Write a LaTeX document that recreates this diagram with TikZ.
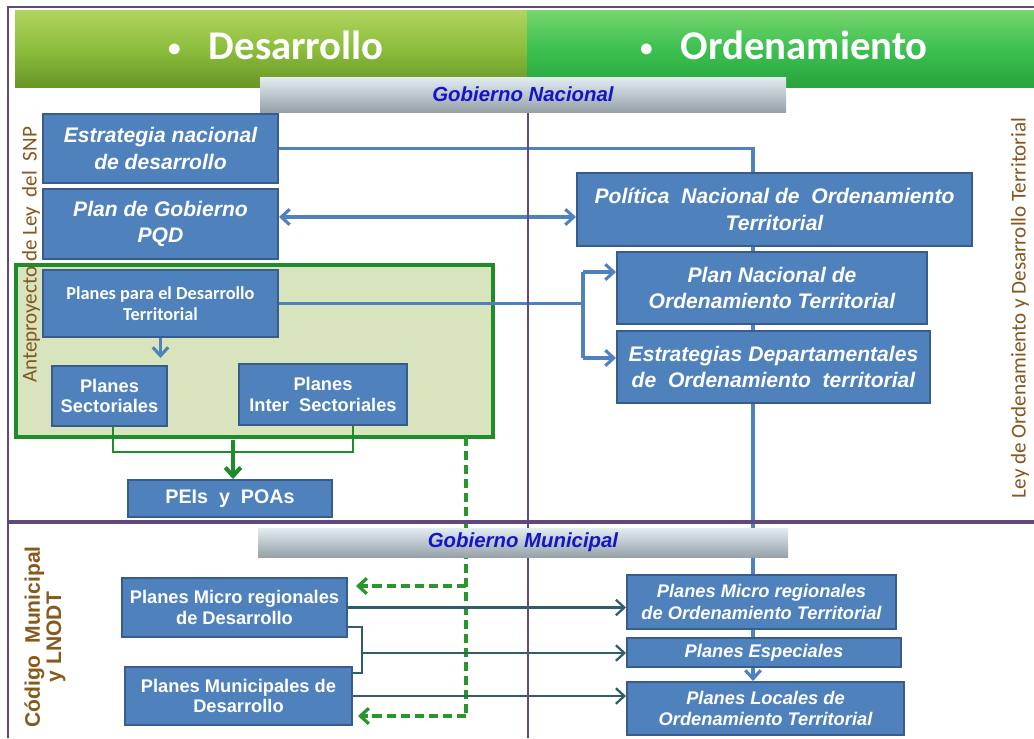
\documentclass[tikz,border=0pt]{standalone}
\usepackage{fontspec}
\setmainfont{Liberation Sans}
\newfontfamily\calibri{Carlito}
\usepackage{tikz}
\usetikzlibrary{calc,arrows.meta}
\newcommand{\fsz}[2]{\fontsize{#1}{#2}\selectfont}
\definecolor{planblue}{RGB}{79,129,189}
\definecolor{planedge}{RGB}{56,93,138}
\definecolor{linkblue}{RGB}{79,129,189}
\definecolor{snpfill}{RGB}{215,228,189}
\definecolor{snpgreen}{RGB}{30,140,40}
\definecolor{dashgreen}{RGB}{40,150,45}
\definecolor{tealline}{RGB}{47,93,104}
\definecolor{framepurple}{RGB}{96,74,123}
\definecolor{labelbrown}{RGB}{135,85,30}
\definecolor{codbrown}{RGB}{135,90,28}
\definecolor{govblue}{RGB}{20,20,200}
\definecolor{govtop}{RGB}{226,237,242}
\definecolor{govbot}{RGB}{150,162,168}
\definecolor{hltop}{RGB}{178,212,96}
\definecolor{hlmid}{RGB}{140,190,60}
\definecolor{hlbot}{RGB}{104,150,40}
\definecolor{hrtop}{RGB}{120,214,110}
\definecolor{hrmid}{RGB}{60,192,80}
\definecolor{hrbot}{RGB}{40,165,60}
\tikzset{>={Straight Barb[length=6pt,width=11pt]}}
\tikzset{
  wh/.style 2 args={minimum width=#1*0.025cm, minimum height=#2*0.025cm},
  plan/.style={draw=planedge, fill=planblue, line width=1.4pt, text=white, inner sep=0pt, align=center},
  natl/.style={plan, font=\fsz{15}{19}\bfseries\itshape},
  ordt/.style={plan, font=\fsz{13}{15}\bfseries\itshape},
  desa/.style={plan, font=\fsz{13}{14.5}\bfseries},
  govbar/.style={top color=govtop, bottom color=govbot, text=govblue, font=\fsz{14.5}{16}\bfseries\itshape, inner sep=0pt},
  headtext/.style={text=white, font=\calibri\fsz{29}{32}\bfseries},
  sidelabel/.style={rotate=90, text=labelbrown, font=\calibri\fsz{15}{17}},
  snpbox/.style={draw=snpgreen, fill=snpfill, line width=2.2pt},
  link/.style={draw=linkblue, line width=2.2pt},
  tlink/.style={draw=tealline, line width=1.6pt},
  gline/.style={draw=snpgreen, line width=1.7pt},
  dline/.style={draw=dashgreen, line width=2.3pt, dash pattern=on 6.5pt off 3.5pt},
  frameline/.style={draw=framepurple, line width=1.8pt}
}
\begin{document}
\begin{tikzpicture}[x=0.025cm, y=-0.025cm]
\useasboundingbox (0,0) rectangle (1034,738);
% header
\shade[top color=hltop, bottom color=hlbot, middle color=hlmid] (15,10) rectangle (527,87);
\shade[top color=hrtop, bottom color=hrbot, middle color=hrmid] (527,10) rectangle (1034,87);
\node[headtext] (hdes) at (276,45) {\raisebox{2pt}{\fsz{18}{18}\textbullet}\hspace{20pt}Desarrollo};
\node[headtext] (hord) at (784,45) {\raisebox{2pt}{\fsz{18}{18}\textbullet}\hspace{20pt}Ordenamiento};
\draw[snpbox] (16,265) rectangle (493,437);
\node[sidelabel] (snplab) at (31,255) {Anteproyecto de Ley\ \ del\ \ SNP};
\node[sidelabel] (lodtlab) at (1020,308) {Ley de Ordenamiento y Desarrollo Territorial};
\node[sidelabel, text=codbrown, font=\fsz{15}{15}\bfseries, align=center] (codlab) at (45,637) {Código\ \ Municipal\\y LNODT};
% boxes
\node[natl, wh={235}{69}] (estr) at (160.5,148.5) {Estrategia nacional\\de desarrollo};
\node[natl, wh={235}{70}] (pgob) at (160.5,224) {Plan de Gobierno\\PQD};
\node[plan, wh={235}{67}, font=\calibri\fsz{13}{15}\bfseries] (pdt) at (160.5,303.5) {Planes para el Desarrollo\\Territorial};
\node[desa, wh={115}{60}] (psec) at (109.5,396) {Planes\\Sectoriales};
\node[desa, wh={168}{61}] (pinter) at (323,394.5) {Planes\\Inter\ \ Sectoriales};
\node[desa, wh={204}{37}, font=\fsz{14}{16}\bfseries] (peis) at (230,498.5) {PEIs\ \ y\ \ POAs};
\node[natl, wh={395}{73}] (pnot) at (774.5,209.5) {Política\ \ Nacional de\ \ Ordenamiento\\Territorial};
\node[natl, wh={310}{72}] (plannac) at (772,288) {Plan Nacional de\\Ordenamiento Territorial};
\node[natl, wh={313}{72}] (estdep) at (773.5,367) {Estrategias Departamentales\\de\ \ Ordenamiento\ \ territorial};
\node[desa, wh={225}{59}] (microdes) at (234.5,607.5) {Planes Micro regionales\\de Desarrollo};
\node[desa, wh={227}{58}] (munides) at (238.5,696) {Planes Municipales de\\Desarrollo};
\node[ordt, wh={269}{54}] (microot) at (761.5,602) {Planes Micro regionales\\de Ordenamiento Territorial};
\node[ordt, wh={274}{29}] (espec) at (764,652.5) {Planes Especiales};
\node[ordt, wh={277}{53}] (locales) at (765.5,708.5) {Planes Locales de\\Ordenamiento Territorial};
% connectors
\coordinate (spine) at (753,148.5);
\coordinate (rowpg) at (0,217);
\coordinate (forkt) at (583,272);
\coordinate (forkb) at (583,358);
\coordinate (legl) at (113,452);
\coordinate (legr) at (353,452);
\coordinate (gstart) at (233,440);
\coordinate (dtop) at (466,437);
\coordinate (dmid) at (466,586);
\coordinate (dbot) at (466,716);
\coordinate (brt) at (362,627);
\coordinate (brm) at (362,653);
\coordinate (brb) at (362,673);
\draw[link] (estr.east) -| (spine |- pnot.north);
\draw[link,<->] (pgob.east |- rowpg) -- (pnot.west |- rowpg);
\draw[link] (pdt.east) -- (pdt.east -| forkt);
\draw[link] (forkt) -- (forkb);
\draw[link,->] (forkt) -- (plannac.west |- forkt);
\draw[link,->] (forkb) -- (estdep.west |- forkb);
\draw[link,->] (pdt.south) -- ++(0,20);
\draw[link] (spine |- pnot.south) -- (spine |- plannac.north);
\draw[link] (spine |- plannac.south) -- (spine |- estdep.north);
\draw[link] (spine |- estdep.south) -- (spine |- microot.north);
\draw[link] (spine |- microot.south) -- (spine |- espec.north);
\draw[link,->] (spine |- espec.south) -- (spine |- locales.north);
\draw[gline] (psec.south -| legl) -- (legl) -- (legr) -- (pinter.south -| legr);
\draw[gline, line width=3pt, ->] (gstart) -- (gstart |- peis.north);
\draw[dline] (dtop) -- (dbot);
\draw[dline,->] (dmid) -- ($(microdes.east |- dmid)+(8,0)$);
\draw[dline,->] (dbot) -- ($(munides.east |- dbot)+(5,0)$);
\draw[tlink,->] (microdes.east) -- (microot.west |- microdes.east);
\draw[tlink] (microdes.east |- brt) -- (brt) -- (brb) -- (munides.east |- brb);
\draw[tlink,->] (brm) -- (espec.west |- brm);
\draw[tlink,->] (munides.east) -- (locales.west |- munides.east);
% frame
\draw[frameline] (8,738) -- (8,7) -- (1034,7);
\draw[frameline] (528,112) -- (528,738);
\draw[frameline, line width=3pt] (8,522) -- (1034,522);
\node[govbar, wh={526}{35}] (govnac) at (523,94.5) {Gobierno Nacional};
\node[govbar, wh={530}{29}] (govmun) at (523,542.5) {Gobierno Municipal};
\end{tikzpicture}
\end{document}
